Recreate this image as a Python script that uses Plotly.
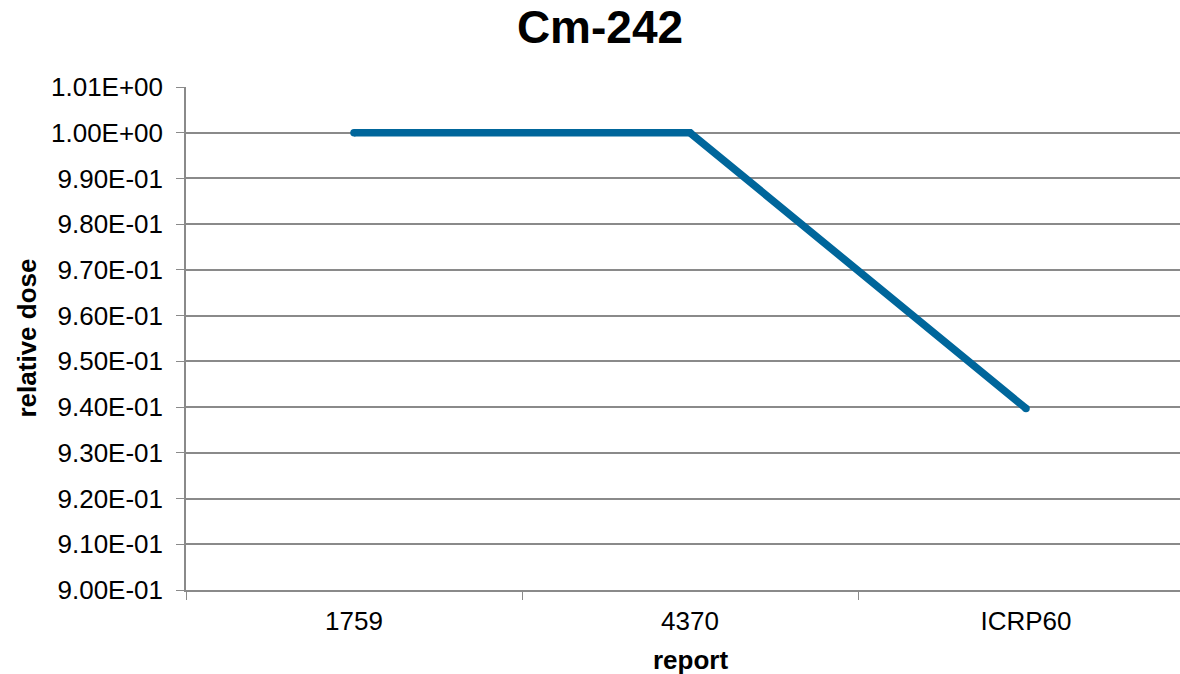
import plotly.graph_objects as go

# Relative dose of Cm-242 by reference report
reports = ["1759", "4370", "ICRP60"]
relative_dose = [1.0, 1.0, 0.9397]

# Y-axis ticks
y_ticks = [0.90, 0.91, 0.92, 0.93, 0.94, 0.95, 0.96, 0.97, 0.98, 0.99, 1.00, 1.01]
y_tick_text = [f"{v:.2E}" for v in y_ticks]

LINE_COLOR = "#00669b"
GRID_COLOR = "#8a8a8a"
FONT = "Liberation Sans, Arial, sans-serif"

W, H = 1180, 674
L, R, T, B = 186, 0, 86.5, 84.3

fig = go.Figure()
fig.add_trace(go.Scatter(
    x=reports,
    y=relative_dose,
    mode="lines+markers",
    line=dict(color=LINE_COLOR, width=7.5),
    marker=dict(color=LINE_COLOR, size=7.5, line=dict(width=0)),
    hoverinfo="x+y",
    showlegend=False,
))

plot_w = W - L - R
fig.update_layout(
    width=W, height=H,
    margin=dict(l=L, r=R, t=T, b=B, pad=0),
    paper_bgcolor="white",
    plot_bgcolor="white",
    font=dict(family=FONT, color="#000000"),
    title=dict(
        text="Cm-242",
        font=dict(family=FONT, size=46, weight="bold", color="#000000"),
        x=600 / W, xanchor="center",
        y=1 - 27 / H, yanchor="middle", yref="container",
    ),
    xaxis=dict(
        type="category",
        range=[-0.5, -0.5 + plot_w / 336.0],
        tickson="boundaries",
        ticks="outside", ticklen=8, tickwidth=1.3, tickcolor=GRID_COLOR,
        showline=True, linecolor=GRID_COLOR, linewidth=1.5,
        showgrid=False, zeroline=False,
        tickfont=dict(family=FONT, size=26, color="#000000"),
        ticklabelstandoff=7,
    ),
    yaxis=dict(
        range=[0.90, 1.01],
        tickvals=y_ticks, ticktext=y_tick_text,
        ticks="outside", ticklen=8, tickwidth=1.3, tickcolor=GRID_COLOR,
        showline=True, linecolor=GRID_COLOR, linewidth=1.5,
        showgrid=True, gridcolor=GRID_COLOR, gridwidth=1.5,
        zeroline=False,
        tickfont=dict(family=FONT, size=26, color="#000000"),
        ticklabelstandoff=8,
    ),
    annotations=[
        dict(
            text="relative dose", textangle=-90,
            xref="paper", yref="paper",
            x=(26 - L) / plot_w, y=0.5,
            xanchor="center", yanchor="middle", showarrow=False,
            font=dict(family=FONT, size=26, weight="bold", color="#000000"),
        ),
        dict(
            text="report",
            xref="paper", yref="paper",
            x=(690 - L) / plot_w, y=-(660 - (H - B)) / (H - T - B),
            xanchor="center", yanchor="middle", showarrow=False,
            font=dict(family=FONT, size=26, weight="bold", color="#000000"),
        ),
    ],
)

fig.write_html("out.html")
